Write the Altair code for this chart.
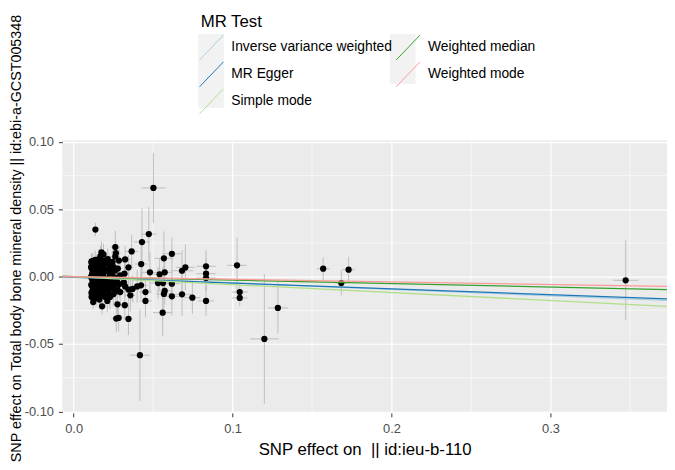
import altair as alt
import pandas as pd

# SNP effects (exposure x, outcome y) with standard errors
bx = [
    # dense cluster near the instrument threshold
    0.0112, 0.0118, 0.0114, 0.0121, 0.0116, 0.0125, 0.0113, 0.0119, 0.0127, 0.0115,
    0.0122, 0.0117, 0.0124, 0.0113, 0.0128, 0.0126,
    0.0136, 0.0142, 0.0134, 0.0147, 0.0139, 0.0145, 0.0133, 0.0149, 0.0138, 0.0144,
    0.0135, 0.0148, 0.0141,
    0.0168, 0.0158, 0.0172, 0.0161, 0.0166, 0.0156, 0.0174, 0.0163, 0.0157, 0.0170,
    0.0160, 0.0167, 0.0173, 0.0162,
    0.0188, 0.0195, 0.0182, 0.0198, 0.0185, 0.0192, 0.0181, 0.0197, 0.0187, 0.0193,
    0.0183, 0.0199,
    0.0215, 0.0224, 0.0211, 0.0228, 0.0218, 0.0213, 0.0226, 0.0220, 0.0216, 0.0229,
    0.0212,
    0.0245, 0.0252, 0.0241, 0.0258, 0.0248, 0.0255, 0.0243, 0.0250,
    0.0285, 0.0278, 0.0292, 0.0272, 0.0288, 0.0275,
    0.0110, 0.0111, 0.0110, 0.0112, 0.0120, 0.0123, 0.0130, 0.0131, 0.0132, 0.0140,
    0.0146, 0.0151, 0.0152, 0.0153, 0.0159, 0.0164, 0.0171, 0.0176, 0.0178, 0.0184,
    0.0190, 0.0194, 0.0202, 0.0205, 0.0207, 0.0232, 0.0235, 0.0238, 0.0262, 0.0265,
    # scattered SNPs
    0.0137, 0.0502, 0.0473, 0.0430, 0.0365, 0.0262, 0.0262, 0.0324, 0.0345, 0.0320,
    0.0425, 0.0480, 0.0568, 0.0618, 0.0573, 0.0682, 0.0703, 0.0833, 0.0833, 0.0833,
    0.0833, 0.0747, 0.0682, 0.0618, 0.0568, 0.0573, 0.0560, 0.0618, 0.0531, 0.0452,
    0.0452, 0.0417, 0.0400, 0.0371, 0.0345, 0.0357, 0.0345, 0.0283, 0.0268, 0.0322,
    0.0276, 0.0293, 0.0179, 0.0123, 0.0324, 0.0316, 0.0175, 0.0266, 0.0113, 0.0227,
    0.0222, 0.0541, 0.0424, 0.0562,
    0.1028, 0.1045, 0.1045, 0.1200, 0.1285, 0.1570, 0.1684, 0.1730, 0.3473,
]
sx = [
    0.0012, 0.0013, 0.0012, 0.0013, 0.0012, 0.0014, 0.0012, 0.0013, 0.0014, 0.0012,
    0.0013, 0.0012, 0.0013, 0.0012, 0.0014, 0.0014,
    0.0014, 0.0015, 0.0014, 0.0016, 0.0015, 0.0015, 0.0014, 0.0016, 0.0015, 0.0015,
    0.0014, 0.0016, 0.0015,
    0.0017, 0.0016, 0.0018, 0.0016, 0.0017, 0.0016, 0.0018, 0.0017, 0.0016, 0.0018,
    0.0016, 0.0017, 0.0018, 0.0017,
    0.0019, 0.0020, 0.0019, 0.0020, 0.0019, 0.0020, 0.0019, 0.0020, 0.0019, 0.0020,
    0.0019, 0.0020,
    0.0021, 0.0022, 0.0021, 0.0023, 0.0022, 0.0021, 0.0022, 0.0022, 0.0022, 0.0023,
    0.0021,
    0.0024, 0.0025, 0.0024, 0.0025, 0.0025, 0.0025, 0.0024, 0.0025,
    0.0027, 0.0027, 0.0028, 0.0027, 0.0028, 0.0027,
    0.0012, 0.0012, 0.0012, 0.0012, 0.0013, 0.0013, 0.0014, 0.0014, 0.0014, 0.0015,
    0.0015, 0.0016, 0.0016, 0.0016, 0.0016, 0.0017, 0.0017, 0.0018, 0.0018, 0.0019,
    0.0019, 0.0020, 0.0020, 0.0021, 0.0021, 0.0023, 0.0023, 0.0024, 0.0026, 0.0026,
    0.0015, 0.0076, 0.0050, 0.0050, 0.0040, 0.0030, 0.0030, 0.0030, 0.0030, 0.0030,
    0.0040, 0.0050, 0.0060, 0.0060, 0.0050, 0.0070, 0.0060, 0.0060, 0.0060, 0.0060,
    0.0050, 0.0050, 0.0060, 0.0050, 0.0050, 0.0050, 0.0060, 0.0050, 0.0050, 0.0040,
    0.0040, 0.0062, 0.0040, 0.0040, 0.0030, 0.0030, 0.0030, 0.0030, 0.0030, 0.0030,
    0.0030, 0.0030, 0.0020, 0.0015, 0.0030, 0.0030, 0.0020, 0.0030, 0.0013, 0.0022,
    0.0022, 0.0050, 0.0040, 0.0050,
    0.0060, 0.0050, 0.0050, 0.0090, 0.0063, 0.0040, 0.0040, 0.0040, 0.0079,
]
by = [
    0.0105, 0.0080, 0.0060, 0.0040, 0.0020, 0.0005, -0.0010, -0.0030, -0.0050, -0.0070,
    -0.0090, -0.0110, -0.0130, -0.0150, -0.0040, 0.0030,
    0.0125, 0.0090, 0.0070, 0.0045, 0.0015, -0.0005, -0.0025, -0.0045, -0.0065, -0.0085,
    -0.0105, -0.0125, -0.0160,
    0.0150, 0.0110, 0.0075, 0.0050, 0.0025, 0.0000, -0.0020, -0.0040, -0.0060, -0.0080,
    -0.0100, -0.0120, -0.0140, -0.0170,
    0.0165, 0.0120, 0.0085, 0.0040, 0.0010, -0.0015, -0.0035, -0.0055, -0.0075, -0.0095,
    -0.0115, -0.0150,
    0.0130, 0.0095, 0.0055, 0.0020, -0.0010, -0.0040, -0.0065, -0.0090, -0.0120, -0.0150,
    -0.0180,
    0.0110, 0.0070, 0.0030, -0.0005, -0.0030, -0.0060, -0.0085, -0.0130,
    0.0120, 0.0060, 0.0010, -0.0025, -0.0055, -0.0095,
    0.0000, -0.0060, 0.0070, -0.0120, 0.0115, -0.0020, 0.0050, -0.0080, 0.0010, -0.0140,
    0.0105, 0.0030, -0.0035, -0.0110, 0.0130, -0.0150, 0.0010, -0.0100, 0.0095, -0.0130,
    0.0060, -0.0060, 0.0100, -0.0025, -0.0105, 0.0070, -0.0080, -0.0035, 0.0045, -0.0110,
    0.0350, 0.0659, 0.0316, 0.0257, 0.0187, 0.0220, 0.0150, 0.0128, 0.0069, 0.0022,
    0.0094, 0.0032, 0.0136, 0.0170, 0.0032, 0.0044, 0.0069, 0.0077, 0.0022, -0.0010,
    -0.0180, -0.0156, -0.0131, -0.0146, -0.0128, -0.0106, -0.0267, -0.0052, -0.0047, -0.0114,
    -0.0180, -0.0583, -0.0072, -0.0091, -0.0096, -0.0138, -0.0314, -0.0306, -0.0311, -0.0212,
    -0.0205, -0.0114, -0.0220, -0.0188, -0.0072, -0.0042, 0.0180, 0.0175, 0.0113, -0.0133,
    -0.0096, 0.0018, -0.0064, -0.0047,
    0.0084, -0.0114, -0.0158, -0.0462, -0.0232, 0.0059, -0.0047, 0.0052, -0.0027,
]
sy = [
    0.006, 0.007, 0.005, 0.006, 0.005, 0.007, 0.005, 0.006, 0.006, 0.005,
    0.006, 0.005, 0.007, 0.006, 0.005, 0.006,
    0.007, 0.006, 0.005, 0.006, 0.006, 0.005, 0.006, 0.007, 0.005, 0.006,
    0.006, 0.007, 0.006,
    0.008, 0.006, 0.007, 0.006, 0.005, 0.006, 0.007, 0.006, 0.005, 0.007,
    0.006, 0.006, 0.007, 0.006,
    0.008, 0.007, 0.006, 0.007, 0.006, 0.007, 0.006, 0.008, 0.006, 0.007,
    0.006, 0.008,
    0.008, 0.007, 0.007, 0.008, 0.007, 0.006, 0.008, 0.007, 0.007, 0.009,
    0.008,
    0.009, 0.008, 0.008, 0.009, 0.008, 0.009, 0.008, 0.009,
    0.010, 0.009, 0.009, 0.009, 0.010, 0.009,
    0.005, 0.006, 0.005, 0.006, 0.006, 0.005, 0.006, 0.006, 0.005, 0.007,
    0.006, 0.005, 0.006, 0.006, 0.007, 0.006, 0.005, 0.006, 0.007, 0.006,
    0.006, 0.007, 0.007, 0.006, 0.007, 0.008, 0.007, 0.008, 0.008, 0.009,
    0.005, 0.026, 0.020, 0.025, 0.012, 0.012, 0.007, 0.010, 0.009, 0.008,
    0.014, 0.015, 0.020, 0.012, 0.012, 0.015, 0.017, 0.012, 0.012, 0.010,
    0.011, 0.012, 0.016, 0.014, 0.013, 0.010, 0.017, 0.010, 0.012, 0.010,
    0.012, 0.034, 0.012, 0.010, 0.009, 0.012, 0.012, 0.010, 0.010, 0.010,
    0.009, 0.008, 0.006, 0.005, 0.008, 0.008, 0.008, 0.008, 0.006, 0.008,
    0.008, 0.012, 0.010, 0.012,
    0.0205, 0.006, 0.006, 0.048, 0.019, 0.0083, 0.0093, 0.0096, 0.0296,
]

# MR estimates: slope and intercept of each fitted line
methods = ["Inverse variance weighted", "MR Egger", "Simple mode",
           "Weighted median", "Weighted mode"]
slopes = [-0.0470, -0.0432, -0.0590, -0.0258, -0.0193]
intercepts = [0.0, -0.0004, 0.0, 0.0, 0.0]
line_colors = ["#a6cee3", "#1f78b4", "#b2df8a", "#33a02c", "#fb9a99"]

x_ticks = [0.0, 0.1, 0.2, 0.3]
y_ticks = [-0.10, -0.05, 0.0, 0.05, 0.10]
x_minor = [0.05, 0.15, 0.25, 0.35]
y_minor = [-0.075, -0.025, 0.025, 0.075]
x_domain = [-0.0071, 0.3733]
y_domain = [-0.1011, 0.1013]

snps = pd.DataFrame({"bx": bx, "sx": sx, "by": by, "sy": sy})
snps["x_lo"] = snps.bx - snps.sx
snps["x_hi"] = snps.bx + snps.sx
snps["y_lo"] = snps.by - snps.sy
snps["y_hi"] = snps.by + snps.sy

lines = pd.DataFrame([
    {"method": m, "x": x, "y": a + b * x}
    for m, b, a in zip(methods, slopes, intercepts)
    for x in x_domain
])
# grey key boxes behind the legend lines: a second legend without labels.
# the names get a zero-width space so Vega-Lite does not merge the two legends
box_keys = [m + "\u200b" for m in methods]
keys = pd.DataFrame({"key": box_keys, "x": [None] * len(methods),
                     "y": [None] * len(methods)})

xs = alt.Scale(domain=x_domain, nice=False, zero=False)
ys = alt.Scale(domain=y_domain, nice=False, zero=False)

x_axis = alt.Axis(
    values=x_ticks, labelExpr="format(datum.value, '.1f')",
    title="SNP effect on \u00a0|| id:ieu-b-110", titleFontSize=17,
    tickSize=4, labelPadding=6, titleY=42, titleBaseline="alphabetic",
)
y_axis = alt.Axis(
    values=y_ticks,
    labelExpr="datum.value < 0 ? '-' + format(-datum.value, '.2f') : format(datum.value, '.2f')",
    title="SNP effect on Total body bone mineral density || id:ebi-a-GCST005348",
    titleFontSize=14.5, tickSize=4, labelPadding=5, titleX=-42, titleY=99,
    titleBaseline="alphabetic",
)

legend_common = dict(
    orient="none", legendX=140, legendY=-128, columns=2,
    rowPadding=-2.7, symbolSize=441, labelOffset=9, titlePadding=6,
    labelLimit=0,
)


def X(field):
    return alt.X(field, type="quantitative", scale=xs, axis=x_axis)


def Y(field):
    return alt.Y(field, type="quantitative", scale=ys, axis=y_axis)


minor_v = alt.Chart(pd.DataFrame({"v": x_minor})).mark_rule(
    color="white", strokeWidth=0.6).encode(x=X("v"))
minor_h = alt.Chart(pd.DataFrame({"v": y_minor})).mark_rule(
    color="white", strokeWidth=0.6).encode(y=Y("v"))

err_v = alt.Chart(snps).mark_rule(color="#BEBEBE", strokeWidth=1).encode(
    x=X("bx"), y=Y("y_lo"), y2="y_hi")
err_h = alt.Chart(snps).mark_rule(color="#BEBEBE", strokeWidth=1).encode(
    y=Y("by"), x=X("x_lo"), x2="x_hi")

points = alt.Chart(snps).mark_circle(size=40, color="black", opacity=1).encode(
    x=X("bx"), y=Y("by"))

key_boxes = alt.Chart(keys).mark_square().encode(
    x=X("x"), y=Y("y"),
    fill=alt.Fill(
        "key:N",
        scale=alt.Scale(domain=box_keys, range=["#F2F2F2"] * len(methods)),
        legend=alt.Legend(
            title=" ", labelExpr="''", columnPadding=161,
            symbolType="M-1.24,-1.26H1.24V1.26H-1.24Z", symbolStrokeWidth=0,
            symbolOpacity=1, **legend_common,
        ),
    ),
)

fits = alt.Chart(lines).mark_line(strokeWidth=1.3, clip=True).encode(
    x=X("x"), y=Y("y"),
    stroke=alt.Stroke(
        "method:N",
        scale=alt.Scale(domain=methods, range=line_colors),
        legend=alt.Legend(
            title="MR Test", symbolType="M-1.15,1.2L1.15,-1.2",
            symbolStrokeWidth=1, columnPadding=1, **legend_common,
        ),
    ),
)

chart = alt.layer(minor_v, minor_h, err_v, err_h, points, key_boxes, fits).properties(
    width=612, height=276,
    autosize=alt.AutoSizeParams(type="none"),
    padding={"left": 55, "top": 131, "right": 0, "bottom": 55},
).configure(
    font="Liberation Sans",
).configure_view(
    fill="#EBEBEB", strokeWidth=0,
).configure_axis(
    domain=False, grid=True, gridColor="white", gridWidth=1.2,
    tickColor="#333333", tickWidth=1,
    labelColor="#4D4D4D", labelFontSize=13, labelFont="Liberation Sans",
    titleColor="black", titleFontWeight="normal", titleFont="Liberation Sans",
).configure_legend(
    titleFontSize=17, titleFontWeight="normal", titleColor="black",
    labelFontSize=14, labelColor="black",
    titleFont="Liberation Sans", labelFont="Liberation Sans",
)

chart.save("out.html", embed_options={"renderer": "svg", "actions": False})
